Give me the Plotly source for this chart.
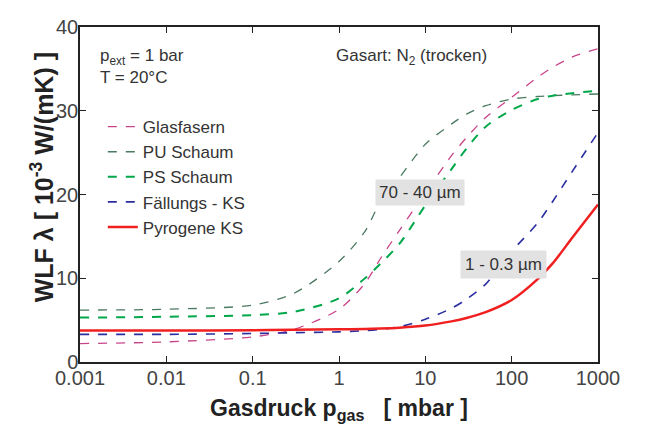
import plotly.graph_objects as go

p_gas = [0.001, 0.01, 0.1, 0.3, 1, 2, 3, 5, 10, 20, 30, 50, 100, 200, 300, 500, 1000]
glasfasern = [2.2, 2.4, 3.0, 3.9, 6.3, 9.4, 12.3, 15.7, 20.2, 24.6, 26.8, 29.2, 31.6, 34.0, 35.2, 36.4, 37.4]
pu_schaum = [6.2, 6.3, 6.8, 8.2, 12.0, 15.6, 19.1, 22.0, 26.0, 28.4, 29.6, 30.6, 31.4, 31.7, 31.8, 31.9, 32.0]
ps_schaum = [5.3, 5.4, 5.6, 6.0, 7.6, 10.0, 11.7, 14.1, 18.7, 23.0, 25.5, 28.1, 30.1, 31.4, 31.8, 32.1, 32.4]
faellungs_ks = [3.3, 3.3, 3.4, 3.5, 3.6, 3.75, 3.9, 4.2, 5.1, 6.4, 7.5, 9.3, 13.2, 16.6, 19.2, 22.7, 27.4]
pyrogene_ks = [3.75, 3.75, 3.8, 3.85, 3.9, 3.95, 4.0, 4.1, 4.35, 4.85, 5.25, 5.95, 7.4, 9.9, 11.8, 14.8, 18.8]

x_tickvals = [0.001, 0.01, 0.1, 1, 10, 100, 1000]
x_ticktext = ["0.001", "0.01", "0.1", "1", "10", "100", "1000"]
y_tickvals = [0, 10, 20, 30, 40]

series = [
    ("Glasfasern", glasfasern, "#c8448a", "dash", 1.3),
    ("PU Schaum", pu_schaum, "#4a7a60", "dash", 1.3),
    ("PS Schaum", ps_schaum, "#00a84a", "dash", 2.0),
    ("Fällungs - KS", faellungs_ks, "#2a2ea0", "dash", 1.6),
    ("Pyrogene KS", pyrogene_ks, "#f02020", "solid", 2.5),
]

FONT = "Arial, Liberation Sans, sans-serif"

fig = go.Figure()
for i, (name, vals, color, dash, w) in enumerate(series):
    fig.add_trace(go.Scatter(
        x=p_gas, y=vals, mode="lines", name=name, legendgroup=str(i),
        line=dict(color=color, dash=dash, width=w, shape="spline", smoothing=0.8),
    ))

# page body has an 8px default margin, compensated here
fig.update_layout(
    width=652, height=425,
    margin=dict(l=72, r=62, t=8, b=71),
    paper_bgcolor="white", plot_bgcolor="white",
    font=dict(family=FONT, color="#222"),
    showlegend=True,
    legend=dict(x=0.044, y=0.755, xanchor="left", yanchor="top",
                bgcolor="rgba(0,0,0,0)", font=dict(size=17, color="#333"),
                tracegroupgap=0, itemwidth=30),
    xaxis=dict(type="log", range=[-3, 3], tickvals=x_tickvals, ticktext=x_ticktext,
               ticks="inside", ticklen=6, tickcolor="#222", showline=True, linecolor="#222",
               linewidth=1.5, mirror="ticks", showgrid=False, zeroline=False,
               tickfont=dict(size=20, color="#444"), ticklabelstandoff=-3,
               ticklabeloverflow="allow",
               title=dict(text="<b>Gasdruck p<sub>gas</sub>\u00a0\u00a0\u00a0[ mbar ]</b>",
                          font=dict(size=23, color="#222"), standoff=12)),
    yaxis=dict(range=[0, 40], tickvals=y_tickvals,
               ticks="inside", ticklen=6, tickcolor="#222", showline=True, linecolor="#222",
               linewidth=1.5, mirror="ticks", showgrid=False, zeroline=False,
               tickfont=dict(size=20, color="#444"), ticklabelstandoff=-4,
               ticklabeloverflow="allow"),
)

fig.add_annotation(xref="paper", yref="paper", x=-0.073, y=(362 - 171) / 346,
                   xanchor="center", yanchor="middle", textangle=-90,
                   text="<b>WLF λ [ 10<sup>-3</sup> W/(mK) ]</b>", showarrow=False,
                   font=dict(size=25, color="#222"))
fig.add_annotation(xref="paper", yref="paper", x=0.035, y=0.91, xanchor="left", yanchor="middle",
                   text="p<sub>ext</sub> = 1 bar", showarrow=False, font=dict(size=17, color="#333"))
fig.add_annotation(xref="paper", yref="paper", x=0.035, y=0.85, xanchor="left", yanchor="middle",
                   text="T = 20°C", showarrow=False, font=dict(size=17, color="#333"))
fig.add_annotation(xref="paper", yref="paper", x=0.49, y=0.91, xanchor="left", yanchor="middle",
                   text="Gasart: N<sub>2</sub> (trocken)", showarrow=False, font=dict(size=17, color="#333"))
fig.add_annotation(x=0.933, y=20.2, xref="x", yref="y", text="70 - 40 µm", showarrow=False,
                   bgcolor="#e2e2e2", font=dict(size=17, color="#333"), borderpad=3)
fig.add_annotation(x=1.91, y=11.6, xref="x", yref="y", text="1 - 0.3 µm", showarrow=False,
                   bgcolor="#e2e2e2", font=dict(size=17, color="#333"), borderpad=4)

fig.write_html("out.html")
